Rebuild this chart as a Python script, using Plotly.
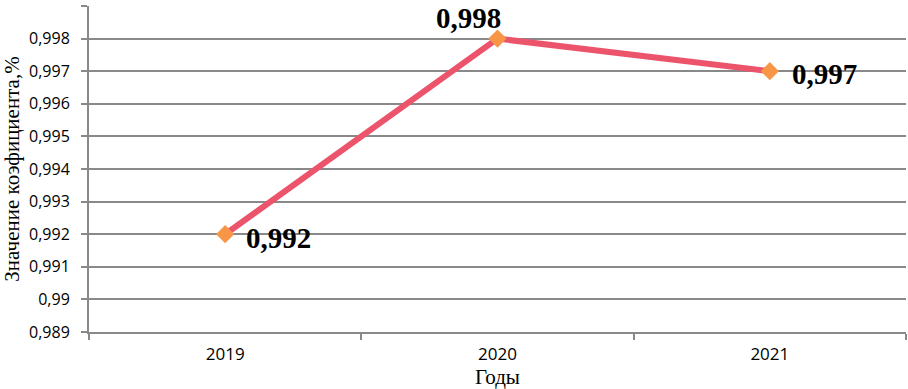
import plotly.graph_objects as go

years = ["2019", "2020", "2021"]
values = [0.992, 0.998, 0.997]
labels = ["0,992", "0,998", "0,997"]

fig = go.Figure()
fig.add_trace(go.Scatter(
    x=years, y=values,
    mode="lines+markers",
    line=dict(color="#EC546C", width=6),
    marker=dict(symbol="diamond", size=14, color="#F79646"),
    cliponaxis=False,
    showlegend=False,
))

label_style = [
    dict(xanchor="left", yanchor="middle", xshift=19, yshift=-4),
    dict(xanchor="center", yanchor="middle", xshift=-29, yshift=21),
    dict(xanchor="left", yanchor="middle", xshift=20, yshift=-3),
]
for i, (v, t, st) in enumerate(zip(values, labels, label_style)):
    fig.add_annotation(
        x=i, y=v, xref="x", yref="y", text=t, showarrow=False,
        font=dict(family="Liberation Serif", size=29, color="black", weight="bold"),
        **st,
    )

gray = "#898989"
fig.update_layout(
    width=908, height=389,
    margin=dict(l=89, r=2, t=6, b=57),
    paper_bgcolor="white", plot_bgcolor="white",
    separators=", ",
    font=dict(family="Open Sans", size=16, color="black"),
    xaxis=dict(
        type="category",
        range=[-0.5, 2.5],
        automargin=False,
        showline=True, linecolor=gray, linewidth=2,
        ticks="outside", ticklen=6, tickcolor=gray, tickwidth=2,
        tickson="boundaries",
        ticklabelstandoff=6,
        showgrid=False,
        tickfont=dict(family="Open Sans", size=17),
        title=dict(text="Годы", font=dict(family="Liberation Serif", size=21), standoff=4),
    ),
    yaxis=dict(
        range=[0.989, 0.999], dtick=0.001, tick0=0.989,
        automargin=False,
        showline=True, linecolor=gray, linewidth=2,
        ticks="outside", ticklen=6, tickcolor=gray, tickwidth=2,
        ticklabelstandoff=8,
        showgrid=True, gridcolor=gray, gridwidth=2,
        zeroline=False,
        tickfont=dict(family="Open Sans", size=16),
        title=dict(text="Значение коэфициента,%", font=dict(family="Liberation Serif", size=21), standoff=4),
    ),
)

fig.write_html(
    "out.html",
    config={"displayModeBar": False},
    post_script="document.body.style.margin='0';document.body.style.padding='0';",
)
